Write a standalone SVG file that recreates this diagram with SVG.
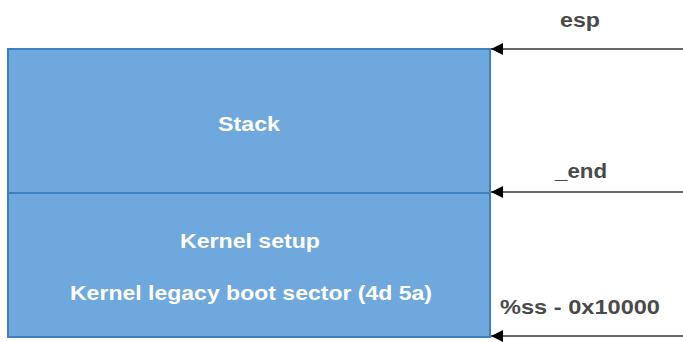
<svg xmlns="http://www.w3.org/2000/svg" width="683" height="342" viewBox="0 0 683 342">
<defs>
<style>
.box{fill:#6fa8dc;stroke:#3d7fc0;stroke-width:2}
.in{font-family:"Liberation Sans",Arial,sans-serif;font-weight:bold;font-size:20px;fill:#ffffff;text-anchor:middle}
.lbl{font-family:"Liberation Sans",Arial,sans-serif;font-weight:bold;font-size:20px;fill:#4a4a4a}
.con{stroke:#666666;stroke-width:2;fill:none;marker-end:url(#ah)}
</style>
<marker id="ah" viewBox="0 0 10 10" refX="10" refY="5" markerWidth="6" markerHeight="6" markerUnits="strokeWidth" orient="auto">
<path d="M0,0 L10,5 L0,10 z" fill="#000"/>
</marker>
</defs>
<g id="stack">
<rect class="box" x="8" y="49" width="482" height="144"/>
<text class="in" x="249" y="131" textLength="62" lengthAdjust="spacingAndGlyphs">Stack</text>
</g>
<g id="kernel">
<rect class="box" x="8" y="193" width="482" height="144"/>
<text class="in" x="250" y="248" textLength="140" lengthAdjust="spacingAndGlyphs">Kernel setup</text>
<text class="in" x="251" y="300" textLength="362" lengthAdjust="spacingAndGlyphs">Kernel legacy boot sector (4d 5a)</text>
</g>
<g id="connectors">
<line class="con" x1="683" y1="49" x2="491" y2="49"/>
<line class="con" x1="683" y1="192" x2="491" y2="192"/>
<line class="con" x1="683" y1="336" x2="491" y2="336"/>
</g>
<g id="labels">
<text class="lbl" x="580" y="27" text-anchor="middle" textLength="40" lengthAdjust="spacingAndGlyphs">esp</text>
<text class="lbl" x="581" y="178" text-anchor="middle" textLength="52" lengthAdjust="spacingAndGlyphs">_end</text>
<text class="lbl" x="500" y="314" textLength="160" lengthAdjust="spacingAndGlyphs">%ss - 0x10000</text>
</g>
</svg>
